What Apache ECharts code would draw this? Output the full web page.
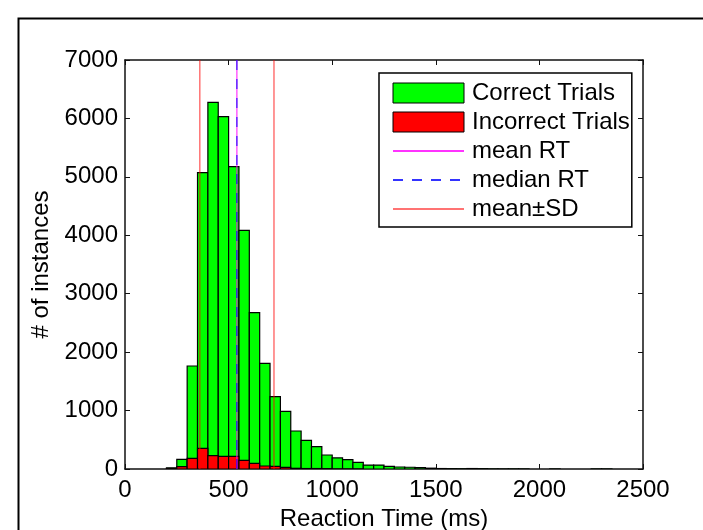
<!DOCTYPE html>
<html>
<head>
<meta charset="utf-8">
<script src="https://cdn.jsdelivr.net/npm/echarts@6/dist/echarts.min.js"></script>
<style>
  html, body { margin: 0; padding: 0; background: #fff; }
  #chart { width: 703px; height: 530px; }
</style>
</head>
<body>
<div id="chart"></div>
<script>
// ---- data ----
const binWidth = 50;
const binStarts = [200, 250, 300, 350, 400, 450, 500, 550, 600, 650, 700, 750, 800, 850, 900, 950,
  1000, 1050, 1100, 1150, 1200, 1250, 1300, 1350, 1400, 1450, 1500, 1550, 1600, 1650, 1700, 1750,
  1800, 1850, 1900, 2050, 2250, 2300];
const correctCounts = [20, 166, 1763, 5072, 6275, 6030, 5175, 4085, 2676, 1808, 1238, 985, 650, 490, 382, 240,
  190, 160, 114, 68, 68, 45, 34, 30, 22, 14, 8, 6, 5, 8, 6, 2,
  1, 2, 1, 1, 1, 1];
const incorrectCounts = [5, 40, 183, 354, 228, 217, 217, 148, 97, 51, 46, 29, 12, 8, 8, 6,
  2, 2, 1, 0, 0, 0, 0, 0, 0, 0, 0, 0, 0, 0, 0, 0,
  0, 0, 0, 0, 0, 0];
const meanRT = 540;
const medianRT = 540;
const sdRT = 179;
const xTicks = [0, 500, 1000, 1500, 2000, 2500];
const yTicks = [0, 1000, 2000, 3000, 4000, 5000, 6000, 7000];
const seriesNames = ['Correct Trials', 'Incorrect Trials', 'mean RT', 'median RT', 'mean\u00b1SD'];

const FONT = "'Liberation Sans', Arial, Helvetica, sans-serif";
const FS = 24;

function histData(counts) {
  const out = [];
  for (let i = 0; i < binStarts.length; i++) {
    if (counts[i] > 0) out.push([binStarts[i], binStarts[i] + binWidth, counts[i]]);
  }
  return out;
}
function renderBar(fill) {
  return function (params, api) {
    const p0 = api.coord([api.value(0), 0]);
    const p1 = api.coord([api.value(1), api.value(2)]);
    return {
      type: 'rect',
      shape: { x: p0[0], y: p1[1], width: p1[0] - p0[0], height: p0[1] - p1[1] },
      style: { fill: fill, stroke: '#000', lineWidth: 1.2 }
    };
  };
}
function vline(x) { return [[x, yTicks[0]], [x, yTicks[yTicks.length - 1]]]; }
const plain = function (v) { return String(v); };
const noSymbol = { color: 'rgba(0,0,0,0)', borderColor: 'rgba(0,0,0,0)', borderWidth: 0 };

const chart = echarts.init(document.getElementById('chart'), null, { renderer: 'canvas' });
const axisCommon = {
  type: 'value',
  splitLine: { show: false },
  axisLine: { show: true, onZero: false, lineStyle: { color: '#111', width: 1.5 } },
  axisTick: { show: true, inside: true, length: 5, lineStyle: { color: '#111', width: 1 } }
};
chart.setOption({
  animation: false,
  backgroundColor: '#fff',
  textStyle: { fontFamily: FONT },
  graphic: [{
    type: 'rect', left: 16, top: 16, silent: true,
    shape: { width: 720, height: 540 },
    style: { fill: 'none', stroke: '#000', lineWidth: 2 }
  }],
  grid: { left: 125, right: 60, top: 60, bottom: 61, containLabel: false, outerBoundsMode: 'none' },
  xAxis: [
    Object.assign({}, axisCommon, {
      min: xTicks[0], max: xTicks[xTicks.length - 1], interval: 500, position: 'bottom',
      name: 'Reaction Time (ms)', nameLocation: 'middle', nameGap: 37,
      nameTextStyle: { fontSize: FS, color: '#000', fontFamily: FONT },
      axisLabel: { fontSize: FS, color: '#000', margin: 9, fontFamily: FONT, formatter: plain }
    }),
    Object.assign({}, axisCommon, {
      min: xTicks[0], max: xTicks[xTicks.length - 1], interval: 500, position: 'top',
      axisLabel: { show: false }
    })
  ],
  yAxis: [
    Object.assign({}, axisCommon, {
      min: yTicks[0], max: yTicks[yTicks.length - 1], interval: 1000, position: 'left',
      name: '# of instances', nameLocation: 'middle', nameGap: 67, nameRotate: 90,
      nameTextStyle: { fontSize: FS, color: '#000', fontFamily: FONT },
      axisLabel: { fontSize: FS, color: '#000', margin: 7, fontFamily: FONT, formatter: plain }
    }),
    Object.assign({}, axisCommon, {
      min: yTicks[0], max: yTicks[yTicks.length - 1], interval: 1000, position: 'right',
      axisLabel: { show: false }
    })
  ],
  legend: {
    orient: 'vertical', left: 379, top: 73,
    padding: [8, 2, 6, 13], itemGap: 5, itemWidth: 71, itemHeight: 20,
    backgroundColor: '#fff', borderColor: '#000', borderWidth: 1.5,
    textStyle: { fontSize: FS, color: '#000', fontFamily: FONT, padding: [0, 0, 0, 3] },
    data: [
      { name: seriesNames[0], icon: 'rect', itemStyle: { color: '#00ff00', borderColor: '#000', borderWidth: 1 } },
      { name: seriesNames[1], icon: 'rect', itemStyle: { color: '#ff0000', borderColor: '#000', borderWidth: 1 } },
      { name: seriesNames[2], itemStyle: noSymbol },
      { name: seriesNames[3], itemStyle: noSymbol },
      { name: seriesNames[4], itemStyle: noSymbol }
    ]
  },
  series: [
    {
      name: seriesNames[0], type: 'custom', color: '#00ff00', clip: true,
      renderItem: renderBar('#00ff00'), encode: { x: [0, 1], y: 2 },
      data: histData(correctCounts), z: 2
    },
    {
      name: seriesNames[1], type: 'custom', color: '#ff0000', clip: true,
      renderItem: renderBar('#ff0000'), encode: { x: [0, 1], y: 2 },
      data: histData(incorrectCounts), z: 3
    },
    {
      name: seriesNames[2], type: 'line', symbol: 'none', showSymbol: false, z: 4,
      color: '#ff00ff', lineStyle: { color: '#ff00ff', width: 1.2, opacity: 0.8 },
      data: vline(meanRT)
    },
    {
      name: seriesNames[3], type: 'line', symbol: 'none', showSymbol: false, z: 5,
      color: '#0000ff', lineStyle: { color: '#0000ff', width: 1.2, type: [10, 9], opacity: 0.8 },
      data: vline(medianRT)
    },
    {
      name: seriesNames[4], type: 'line', symbol: 'none', showSymbol: false, z: 4,
      color: '#ff0000', lineStyle: { color: '#ff0000', width: 1.5, opacity: 0.55 },
      data: vline(meanRT - sdRT)
    },
    {
      name: seriesNames[4], type: 'line', symbol: 'none', showSymbol: false, z: 4,
      color: '#ff0000', lineStyle: { color: '#ff0000', width: 1.5, opacity: 0.55 },
      data: vline(meanRT + sdRT)
    }
  ]
});
</script>
</body>
</html>
